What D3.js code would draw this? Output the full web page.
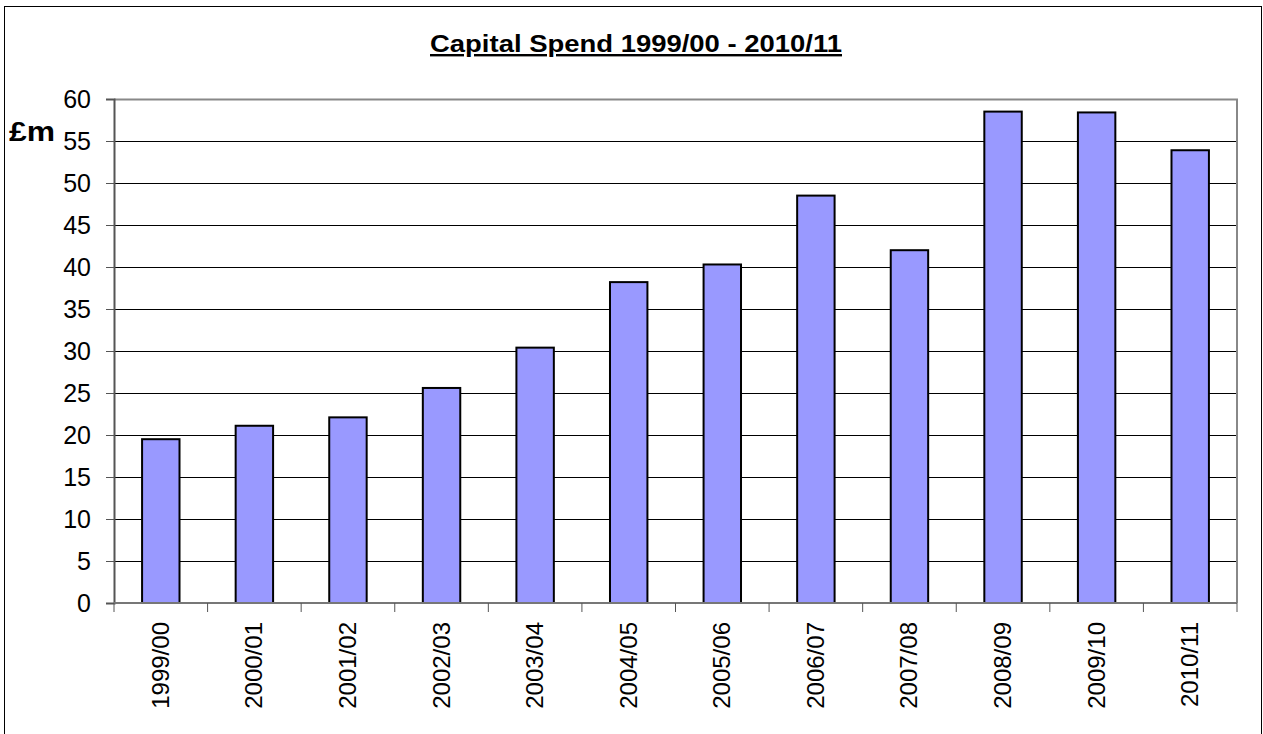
<!DOCTYPE html>
<html>
<head>
<meta charset="utf-8">
<script src="https://cdn.jsdelivr.net/npm/d3@7"></script>
<style>
  body { margin: 0; background: #fff; }
  text { font-family: "Liberation Sans", Arial, sans-serif; }
</style>
</head>
<body>
<div id="chart"></div>
<script>
// data
var years = ["1999/00", "2000/01", "2001/02", "2002/03", "2003/04", "2004/05",
             "2005/06", "2006/07", "2007/08", "2008/09", "2009/10", "2010/11"];
var spend = [19.5, 21.1, 22.1, 25.6, 30.4, 38.2, 40.3, 48.5, 42.0, 58.5, 58.4, 53.9];
var yTicks = [0, 5, 10, 15, 20, 25, 30, 35, 40, 45, 50, 55, 60];

var svgWidth = 1263, svgHeight = 734;
var margin = { top: 99, left: 114, right: 26, bottom: 131 };
var width = svgWidth - margin.left - margin.right;
var height = svgHeight - margin.top - margin.bottom;

var svg = d3.select("#chart").append("svg")
  .attr("width", svgWidth)
  .attr("height", svgHeight);

// outer frame
svg.append("rect")
  .attr("x", 4.5).attr("y", 6.5)
  .attr("width", 1257).attr("height", 760)
  .attr("fill", "none").attr("stroke", "#000").attr("stroke-width", 1);

// title (the original font is stretched wide)
svg.append("text")
  .attr("x", 430).attr("y", 52)
  .attr("textLength", 412).attr("lengthAdjust", "spacingAndGlyphs")
  .style("font-size", "24px").style("font-weight", "bold")
  .style("text-decoration", "underline")
  .text("Capital Spend 1999/00 - 2010/11");

svg.append("text")
  .attr("x", 9).attr("y", 141)
  .attr("textLength", 46).attr("lengthAdjust", "spacingAndGlyphs")
  .style("font-size", "27px").style("font-weight", "bold")
  .text("£m");

var chartGroup = svg.append("g")
  .attr("transform", `translate(${margin.left}, ${margin.top})`);

var xScale = d3.scaleBand().domain(years).range([0, width]).paddingInner(0.6).paddingOuter(0.3);
var xTickScale = d3.scaleLinear().domain([0, years.length]).range([0, width]);
var yScale = d3.scaleLinear().domain([0, 60]).range([height, 0]);

// gridlines
chartGroup.selectAll(".grid")
  .data(yTicks.filter(d => d > 0 && d < 60))
  .enter().append("line")
  .attr("x1", 0).attr("x2", width)
  .attr("y1", d => Math.round(yScale(d)) + 0.5)
  .attr("y2", d => Math.round(yScale(d)) + 0.5)
  .attr("stroke", "#000").attr("stroke-width", 1);

// plot border top/right
chartGroup.append("path")
  .attr("d", `M0,0.5H${width}V${height}`)
  .attr("fill", "none").attr("stroke", "#888").attr("stroke-width", 2);

// bars
chartGroup.selectAll(".bar")
  .data(spend)
  .enter().append("rect")
  .attr("x", (d, i) => xScale(years[i]))
  .attr("y", d => yScale(d))
  .attr("width", xScale.bandwidth())
  .attr("height", d => height - yScale(d))
  .attr("fill", "#9999ff")
  .attr("stroke", "#000").attr("stroke-width", 2);

// y axis
var yAxis = d3.axisLeft(yScale).tickValues(yTicks).tickSize(8).tickPadding(15);
var yg = chartGroup.append("g").call(yAxis);
yg.select(".domain").attr("stroke", "#555").attr("stroke-width", 2);
yg.selectAll(".tick line").attr("stroke", "#555");
yg.selectAll("text").style("font-size", "25px").attr("fill", "#000")
  .attr("font-family", null);

// x axis: ticks between categories
var xg = chartGroup.append("g").attr("transform", `translate(0, ${height})`);
xg.append("line").attr("x1", 0).attr("x2", width).attr("y1", 0).attr("y2", 0)
  .attr("stroke", "#777").attr("stroke-width", 2);
xg.selectAll(".xtick")
  .data(d3.range(years.length + 1))
  .enter().append("line")
  .attr("x1", d => xTickScale(d)).attr("x2", d => xTickScale(d))
  .attr("y1", 0).attr("y2", 9)
  .attr("stroke", "#555").attr("stroke-width", 1);
xg.selectAll(".xlabel")
  .data(years)
  .enter().append("text")
  .attr("transform", d => `translate(${xScale(d) + xScale.bandwidth() / 2 + 8}, 19) rotate(-90)`)
  .attr("text-anchor", "end")
  .style("font-size", "24px")
  .text(d => d);
</script>
</body>
</html>
